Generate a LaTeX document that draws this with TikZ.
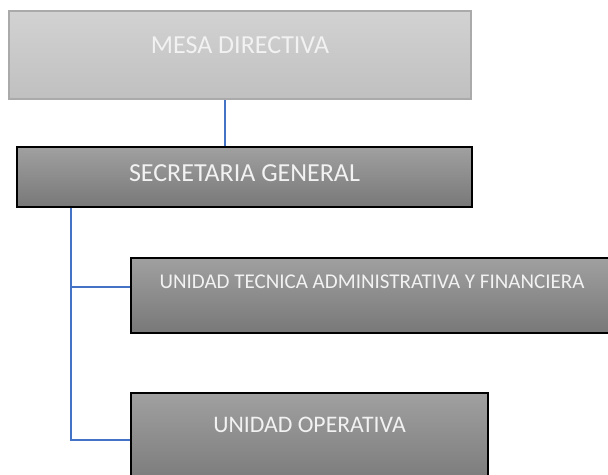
\documentclass[tikz,border=0pt]{standalone}
\usepackage{fontspec}
\setmainfont{Carlito}
\usetikzlibrary{positioning}
\definecolor{mesatop}{HTML}{D2D2D2}
\definecolor{mesabot}{HTML}{C0C0C0}
\definecolor{mesaline}{HTML}{AAAAAA}
\definecolor{unittop}{HTML}{A0A0A0}
\definecolor{unitbot}{HTML}{787878}
\definecolor{labelgray}{HTML}{F2F2F2}
\definecolor{linkblue}{HTML}{4472C4}

\begin{document}
\begin{tikzpicture}[x=0.75pt,y=-0.75pt,
    mesabox/.style={draw=mesaline,line width=1.4pt,top color=mesatop,bottom color=mesabot,inner sep=0pt},
    unitbox/.style={draw=black,line width=1.1pt,top color=unittop,bottom color=unitbot,inner sep=0pt},
    boxlabel/.style={text=labelgray,inner sep=0pt},
    link/.style={draw=linkblue,line width=1.2pt}]
    \useasboundingbox (0,0) rectangle (608,475);
    \clip (0,0) rectangle (608,475);
    % boxes
    \node[mesabox,minimum width=346.5pt,minimum height=66pt] (mesa) at (240,55) {};
    \node[unitbox,minimum width=341.25pt,minimum height=45pt] (sg) at (244.5,177) {};
    \node[unitbox,minimum width=362.25pt,minimum height=56.25pt] (utaf) at (372.5,295.5) {};
    \node[unitbox,minimum width=267.75pt,minimum height=72pt] (uo) at (309.5,441) {};
    % texts
    \node[boxlabel,font=\fontsize{19.5}{22}\selectfont] (mesatext) at (240,45) {MESA DIRECTIVA};
    \node[boxlabel,font=\fontsize{19.5}{22}\selectfont] (sgtext) at (244.5,173) {SECRETARIA GENERAL};
    \node[boxlabel,font=\fontsize{15.75}{18}\selectfont] (utaftext) at (372,282) {UNIDAD TECNICA ADMINISTRATIVA Y FINANCIERA};
    \node[boxlabel,font=\fontsize{17.8}{20}\selectfont] (uotext) at (309.5,425) {UNIDAD OPERATIVA};
    % connectors
    \coordinate (trunk) at ([xshift=41.25pt]sg.south west);
    \draw[link] ([xshift=-11.25pt]mesa.south) -- ([xshift=-11.25pt]mesa.south |- sg.north);
    \draw[link] (trunk) |- ([yshift=6.4pt]utaf.west);
    \draw[link] (trunk) |- ([yshift=0.75pt]uo.west);
\end{tikzpicture}
\end{document}
